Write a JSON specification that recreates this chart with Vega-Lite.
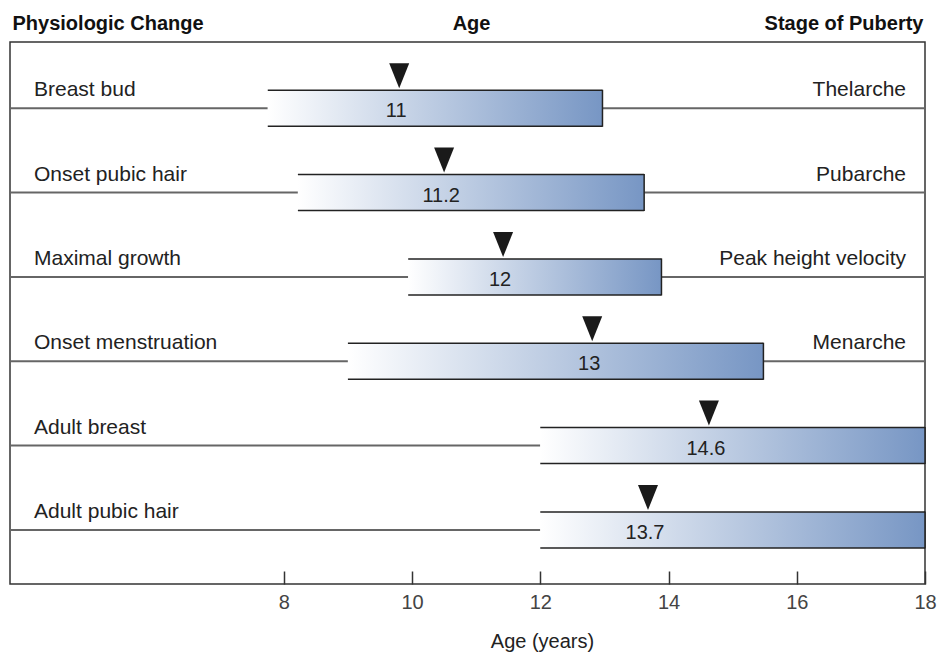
{
  "$schema": "https://vega.github.io/schema/vega-lite/v6.json",
  "width": 915,
  "height": 542,
  "autosize": {"type": "none"},
  "padding": {"left": 10, "top": 42, "right": 15, "bottom": 71},
  "background": "white",
  "config": {
    "font": "Liberation Sans",
    "view": {"stroke": "#333333", "strokeWidth": 1.5},
    "axis": {"grid": false}
  },
  "data": {
    "values": [
      {"change": "Breast bud", "stage": "Thelarche", "start": 7.75, "end": 12.97, "marker": 9.8, "label": "11"},
      {"change": "Onset pubic hair", "stage": "Pubarche", "start": 8.22, "end": 13.62, "marker": 10.5, "label": "11.2"},
      {"change": "Maximal growth", "stage": "Peak height velocity", "start": 9.94, "end": 13.89, "marker": 11.42, "label": "12"},
      {"change": "Onset menstruation", "stage": "Menarche", "start": 9.0, "end": 15.48, "marker": 12.81, "label": "13"},
      {"change": "Adult breast", "stage": "", "start": 12.0, "end": 18.0, "marker": 14.63, "label": "14.6"},
      {"change": "Adult pubic hair", "stage": "", "start": 12.0, "end": 18.0, "marker": 13.68, "label": "13.7"}
    ]
  },
  "resolve": {"axis": {"x": "independent"}},
  "layer": [
    {
      "mark": {"type": "rule", "color": "#666666", "strokeWidth": 2},
      "encoding": {
        "x": {"field": "start", "type": "quantitative", "scale": {"domain": [3.73, 18], "nice": false, "zero": false}, "axis": null},
        "x2": {"value": 0},
        "y": {"field": "change", "type": "nominal", "sort": null, "scale": {"type": "band", "paddingInner": 0, "paddingOuter": 0.2135, "align": 0.67}, "axis": null}
      }
    },
    {
      "mark": {"type": "rule", "color": "#666666", "strokeWidth": 2},
      "encoding": {
        "x": {"field": "end", "type": "quantitative", "scale": {"domain": [3.73, 18], "nice": false, "zero": false}, "axis": null},
        "x2": {"value": {"expr": "width"}},
        "y": {"field": "change", "type": "nominal", "sort": null, "scale": {"type": "band", "paddingInner": 0, "paddingOuter": 0.2135, "align": 0.67}, "axis": null}
      }
    },
    {
      "mark": {
        "type": "bar",
        "size": 36,
        "fill": {"gradient": "linear", "x1": 0, "x2": 1, "y1": 0, "y2": 0, "stops": [{"offset": 0, "color": "#ffffff"}, {"offset": 1, "color": "#7796c4"}]}
      },
      "encoding": {
        "x": {
          "field": "start", "type": "quantitative",
          "scale": {"domain": [3.73, 18], "nice": false, "zero": false},
          "axis": {
            "orient": "bottom", "values": [8, 10, 12, 14, 16, 18], "format": "d",
            "domain": false, "ticks": true, "tickSize": -13, "tickColor": "#333333", "tickWidth": 1.5,
            "labelFontSize": 20, "labelColor": "#444444", "labelPadding": 21, "labelFlush": false, "labelOverlap": false,
            "title": "Age (years)", "titleFontSize": 20, "titleFontWeight": "normal", "titleColor": "#222222",
            "titleX": 532, "titlePadding": 19
          }
        },
        "x2": {"field": "end"},
        "y": {"field": "change", "type": "nominal", "sort": null, "scale": {"type": "band", "paddingInner": 0, "paddingOuter": 0.2135, "align": 0.67}, "axis": null}
      }
    },
    {
      "mark": {"type": "rule", "color": "#222222", "strokeWidth": 1.5, "yOffset": -18},
      "encoding": {
        "x": {"field": "start", "type": "quantitative", "scale": {"domain": [3.73, 18], "nice": false, "zero": false}, "axis": null},
        "x2": {"field": "end"},
        "y": {"field": "change", "type": "nominal", "sort": null, "scale": {"type": "band", "paddingInner": 0, "paddingOuter": 0.2135, "align": 0.67}, "axis": null}
      }
    },
    {
      "mark": {"type": "rule", "color": "#222222", "strokeWidth": 1.5, "yOffset": 18},
      "encoding": {
        "x": {"field": "start", "type": "quantitative", "scale": {"domain": [3.73, 18], "nice": false, "zero": false}, "axis": null},
        "x2": {"field": "end"},
        "y": {"field": "change", "type": "nominal", "sort": null, "scale": {"type": "band", "paddingInner": 0, "paddingOuter": 0.2135, "align": 0.67}, "axis": null}
      }
    },
    {
      "mark": {"type": "tick", "orient": "vertical", "color": "#222222", "thickness": 1.5, "size": 37, "opacity": 1},
      "encoding": {
        "x": {
          "field": "end", "type": "quantitative",
          "scale": {"domain": [3.73, 18], "nice": false, "zero": false},
          "axis": {
            "orient": "top", "values": [3.73, 10.92, 18],
            "labelExpr": "datum.value < 5 ? 'Physiologic Change' : (datum.value > 17 ? 'Stage of Puberty' : 'Age')",
            "domain": false, "ticks": false, "tickSize": 0,
            "labelFontSize": 20, "labelFontWeight": "bold", "labelColor": "#111111", "labelLimit": 0,
            "labelFlush": true, "labelFlushOffset": -2, "labelPadding": 13, "labelBaseline": "alphabetic", "labelOverlap": false, "labelBound": false,
            "title": null
          }
        },
        "y": {"field": "change", "type": "nominal", "sort": null, "scale": {"type": "band", "paddingInner": 0, "paddingOuter": 0.2135, "align": 0.67}, "axis": null}
      }
    },
    {
      "mark": {"type": "point", "shape": "M-0.8,-1L0.8,-1L0,1Z", "size": 625, "filled": true, "color": "#1a1a1a", "opacity": 1, "yOffset": -32.5},
      "encoding": {
        "x": {"field": "marker", "type": "quantitative", "scale": {"domain": [3.73, 18], "nice": false, "zero": false}, "axis": null},
        "y": {"field": "change", "type": "nominal", "sort": null, "scale": {"type": "band", "paddingInner": 0, "paddingOuter": 0.2135, "align": 0.67}, "axis": null}
      }
    },
    {
      "mark": {"type": "text", "fontSize": 20, "color": "#222222", "baseline": "middle", "align": "center", "dy": 3, "dx": -3},
      "encoding": {
        "x": {"field": "marker", "type": "quantitative", "scale": {"domain": [3.73, 18], "nice": false, "zero": false}, "axis": null},
        "y": {"field": "change", "type": "nominal", "sort": null, "scale": {"type": "band", "paddingInner": 0, "paddingOuter": 0.2135, "align": 0.67}, "axis": null},
        "text": {"field": "label"}
      }
    },
    {
      "mark": {"type": "text", "fontSize": 21, "color": "#222222", "baseline": "alphabetic", "align": "left", "dx": 24, "dy": -12},
      "encoding": {
        "x": {"value": 0},
        "y": {"field": "change", "type": "nominal", "sort": null, "scale": {"type": "band", "paddingInner": 0, "paddingOuter": 0.2135, "align": 0.67}, "axis": null},
        "text": {"field": "change"}
      }
    },
    {
      "mark": {"type": "text", "fontSize": 21, "color": "#222222", "baseline": "alphabetic", "align": "right", "dx": -19, "dy": -12},
      "encoding": {
        "x": {"value": {"expr": "width"}},
        "y": {"field": "change", "type": "nominal", "sort": null, "scale": {"type": "band", "paddingInner": 0, "paddingOuter": 0.2135, "align": 0.67}, "axis": null},
        "text": {"field": "stage"}
      }
    }
  ]
}
